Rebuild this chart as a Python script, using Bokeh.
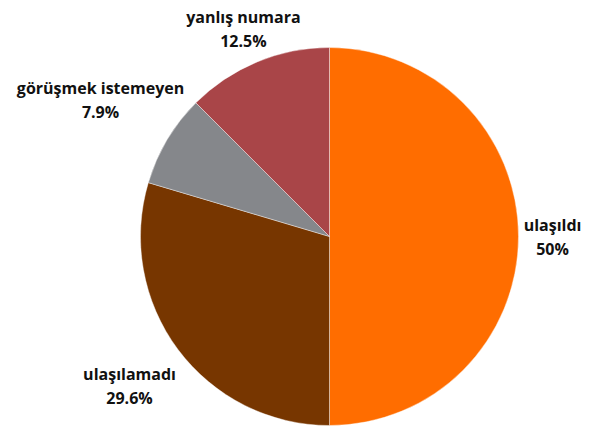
import math
from bokeh.plotting import figure
from bokeh.models import ColumnDataSource, Range1d
from bokeh.core.properties import value
from bokeh.embed import file_html
from bokeh.resources import INLINE

categories = ["ulaşıldı", "ulaşılamadı", "görüşmek istemeyen", "yanlış numara"]
shares = [50.0, 29.6, 7.9, 12.5]
pct_labels = ["50%", "29.6%", "7.9%", "12.5%"]
colors = ["#FF6D00", "#773600", "#85878B", "#A94548"]
label_dist = [1.18, 1.32, 1.41, 1.19]

W, H = 595, 427
cx, cy, r = 329, H - 236, 189

total = sum(shares)
starts, ends, mids = [], [], []
cum = 0.0
for s in shares:
    a0 = math.pi / 2 - cum / total * 2 * math.pi
    cum += s
    a1 = math.pi / 2 - cum / total * 2 * math.pi
    starts.append(a0)
    ends.append(a1)
    mids.append((a0 + a1) / 2)

lx = [cx + f * r * math.cos(m) for f, m in zip(label_dist, mids)]
ly = [cy + f * r * math.sin(m) for f, m in zip(label_dist, mids)]

src = ColumnDataSource(dict(
    start=starts, end=ends, color=colors, cat=categories, pct=pct_labels,
    lx=lx, ly_top=[y + 12 for y in ly], ly_bot=[y - 12 for y in ly],
))

p = figure(width=W, height=H, output_backend="svg", toolbar_location=None,
           x_range=Range1d(0, W), y_range=Range1d(0, H),
           min_border=0, outline_line_color=None)
p.axis.visible = False
p.grid.visible = False
p.background_fill_color = "white"

p.wedge(x=cx, y=cy, radius=r, start_angle="start", end_angle="end",
        direction="clock", fill_color="color", line_color="white",
        line_width=0.4, source=src)

for col, key in (("cat", "ly_top"), ("pct", "ly_bot")):
    p.text(x="lx", y=key, text=col, source=src, text_align="center",
           text_baseline="middle", text_font=value("Open Sans"),
           text_font_style="bold", text_font_size="16px", text_color="#111111")

open("out.html", "w").write(file_html(p, INLINE))
